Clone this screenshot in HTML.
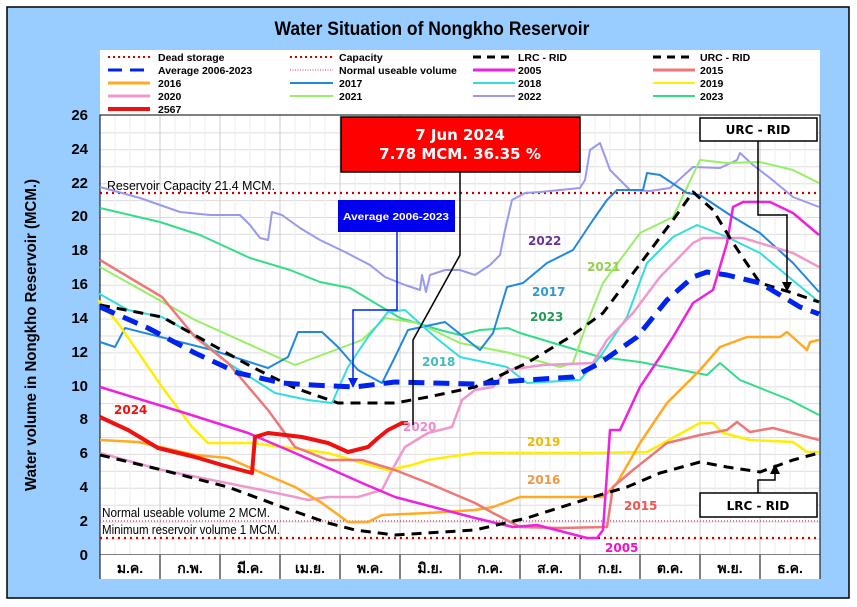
<!DOCTYPE html>
<html><head><meta charset="utf-8"><style>
html,body{margin:0;padding:0;background:#fff;}
svg{display:block;font-family:"Liberation Sans",sans-serif;}
</style></head><body>
<svg width="857" height="607" viewBox="0 0 857 607" xmlns="http://www.w3.org/2000/svg">
<rect x="0" y="0" width="857" height="607" fill="#fff"/>
<rect x="7" y="7" width="842" height="591" fill="#99ccff" stroke="#000" stroke-width="1.5"/>
<text x="432" y="35" text-anchor="middle" font-size="19" font-weight="bold" transform="translate(432,0) scale(0.92,1) translate(-432,0)">Water Situation of Nongkho Reservoir</text>
<rect x="100" y="50" width="720" height="65" fill="#fff"/>
<g font-size="10.5" font-weight="bold">
<line x1="108" y1="57" x2="150" y2="57" stroke="#cc0000" stroke-width="2" stroke-dasharray="2 3"/><text x="158" y="61">Dead storage</text>
<line x1="290" y1="57" x2="333" y2="57" stroke="#cc0000" stroke-width="2" stroke-dasharray="2 3"/><text x="339" y="61">Capacity</text>
<line x1="473" y1="57" x2="515" y2="57" stroke="#000" stroke-width="3" stroke-dasharray="8 6"/><text x="518" y="61">LRC - RID</text>
<line x1="653" y1="57" x2="695" y2="57" stroke="#000" stroke-width="3" stroke-dasharray="8 6"/><text x="700" y="61">URC - RID</text>
<line x1="108" y1="70" x2="150" y2="70" stroke="#0022ee" stroke-width="3" stroke-dasharray="14 8"/><text x="158" y="74">Average 2006-2023</text>
<line x1="290" y1="70" x2="333" y2="70" stroke="#cc3366" stroke-width="1" stroke-dasharray="1 1.5"/><text x="339" y="74">Normal useable volume</text>
<line x1="473" y1="70" x2="515" y2="70" stroke="#ee22dd" stroke-width="3"/><text x="518" y="74">2005</text>
<line x1="653" y1="70" x2="695" y2="70" stroke="#ee7777" stroke-width="3"/><text x="700" y="74">2015</text>
<line x1="108" y1="83" x2="150" y2="83" stroke="#ffaa22" stroke-width="3"/><text x="158" y="87">2016</text>
<line x1="290" y1="83" x2="333" y2="83" stroke="#2288dd" stroke-width="2"/><text x="339" y="87">2017</text>
<line x1="473" y1="83" x2="515" y2="83" stroke="#33dddd" stroke-width="2"/><text x="518" y="87">2018</text>
<line x1="653" y1="83" x2="695" y2="83" stroke="#ffee00" stroke-width="2"/><text x="700" y="87">2019</text>
<line x1="108" y1="96" x2="150" y2="96" stroke="#ee99cc" stroke-width="3"/><text x="158" y="100">2020</text>
<line x1="290" y1="96" x2="333" y2="96" stroke="#99ee66" stroke-width="2"/><text x="339" y="100">2021</text>
<line x1="473" y1="96" x2="515" y2="96" stroke="#9999ee" stroke-width="2"/><text x="518" y="100">2022</text>
<line x1="653" y1="96" x2="695" y2="96" stroke="#33dd88" stroke-width="2"/><text x="700" y="100">2023</text>
<line x1="108" y1="109" x2="150" y2="109" stroke="#ee1111" stroke-width="4"/><text x="158" y="113">2567</text>
</g>
<rect x="100" y="115" width="720" height="440" fill="#fff"/>
<g stroke="#dddddd" stroke-width="1">
<path d="M100 132.9H820M100 149.8H820M100 166.8H820M100 183.7H820M100 200.6H820M100 217.5H820M100 234.4H820M100 251.4H820M100 268.3H820M100 285.2H820M100 302.1H820M100 319H820M100 336H820M100 352.9H820M100 369.8H820M100 386.7H820M100 403.6H820M100 420.6H820M100 437.5H820M100 454.4H820M100 471.3H820M100 488.2H820M100 505.2H820M100 522.1H820M100 539H820"/>
<path d="M115 115V555M130 115V555M145 115V555M175 115V555M190 115V555M205 115V555M235 115V555M250 115V555M265 115V555M295 115V555M310 115V555M325 115V555M355 115V555M370 115V555M385 115V555M415 115V555M430 115V555M445 115V555M475 115V555M490 115V555M505 115V555M535 115V555M550 115V555M565 115V555M595 115V555M610 115V555M625 115V555M655 115V555M670 115V555M685 115V555M715 115V555M730 115V555M745 115V555M775 115V555M790 115V555M805 115V555" stroke="#eeeeee"/>
<path d="M160 115V555M220 115V555M280 115V555M340 115V555M400 115V555M460 115V555M520 115V555M580 115V555M640 115V555M700 115V555M760 115V555" stroke="#cccccc"/>
</g>
<rect x="100" y="115" width="720" height="440" fill="none" stroke="#000" stroke-width="1"/>
<line x1="100" y1="193" x2="820" y2="193" stroke="#cc0000" stroke-width="2.2" stroke-dasharray="2 4"/>
<line x1="100" y1="521" x2="820" y2="521" stroke="#cc3366" stroke-width="1.2" stroke-dasharray="1 2"/>
<line x1="100" y1="538" x2="820" y2="538" stroke="#cc0000" stroke-width="2.2" stroke-dasharray="2 4"/>
<g font-size="13">
<text x="107" y="190" textLength="168" lengthAdjust="spacingAndGlyphs">Reservoir Capacity 21.4 MCM.</text>
<text x="102" y="517" textLength="168" lengthAdjust="spacingAndGlyphs">Normal useable volume 2 MCM.</text>
<text x="102" y="534" textLength="178" lengthAdjust="spacingAndGlyphs">Minimum reservoir volume 1 MCM.</text>
</g>
<g fill="none" stroke-linejoin="round" stroke-linecap="butt">
<polyline stroke="#9999ee" stroke-width="2" points="100,187 140,198 180,212 210,215 240,215 250,225 260,238 268,240 272,212 282,215 300,228 320,240 345,252 370,265 385,277 405,285 420,290 422,275 426,292 430,275 445,270 460,270 475,275 490,265 500,255 505,230 512,200 525,193 540,192 560,190 580,188 585,180 590,150 600,143 610,170 620,180 630,190 650,191 670,188 693,167 720,168 737,160 740,153 753,165 770,178 793,197 819,207"/>
<polyline stroke="#33dd88" stroke-width="2" points="100,208 160,222 200,235 250,258 290,270 320,282 350,288 370,300 400,318 440,330 460,335 480,330 508,328 520,333 560,345 600,357 640,362 707,375 720,363 740,380 790,400 819,415"/>
<polyline stroke="#99ee66" stroke-width="2" points="100,267 195,320 295,365 362,340 385,318 418,323 460,343 510,353 560,367 573,363 587,323 603,283 640,233 673,217 700,160 727,163 760,162 793,170 819,183"/>
<polyline stroke="#2288dd" stroke-width="2" points="100,342 115,347 125,328 212,350 268,368 288,357 298,332 322,332 338,347 358,370 382,383 395,357 408,330 445,322 480,350 493,333 507,287 523,283 547,263 573,250 593,220 607,200 617,190 643,190 647,173 660,175 687,193 700,195 733,217 760,233 793,263 819,292"/>
<polyline stroke="#33dddd" stroke-width="2" points="98,293 128,310 162,317 198,337 228,363 275,393 308,400 332,403 348,367 368,337 388,312 405,310 435,337 460,357 507,367 527,383 580,380 600,357 627,317 647,263 673,237 697,225 727,237 760,253 819,302"/>
<polyline stroke="#ee99cc" stroke-width="2.5" points="100,453 162,470 262,490 295,497 308,500 328,497 358,497 382,490 392,470 405,447 428,433 452,427 462,400 475,390 493,387 507,370 543,365 593,363 607,340 633,313 660,277 693,243 703,238 743,238 793,253 819,267"/>
<polyline stroke="#ffee00" stroke-width="2.5" points="98,300 118,323 162,387 192,427 208,443 252,443 282,447 328,453 362,463 388,470 412,465 428,460 475,453 493,453 593,453 647,452 700,423 713,423 723,433 750,440 793,442 807,452 819,452"/>
<polyline stroke="#ffaa22" stroke-width="2.5" points="100,440 138,442 195,455 228,458 262,473 295,487 322,503 348,522 368,522 382,515 428,513 475,510 493,507 520,497 560,497 603,497 617,483 640,443 667,403 700,370 720,347 747,337 780,337 787,332 807,350 810,342 819,340"/>
<polyline stroke="#ee7777" stroke-width="2.5" points="100,260 162,297 195,337 228,363 268,410 295,447 328,460 362,460 395,470 428,483 475,503 493,513 520,527 560,528 607,527 613,487 633,470 667,443 700,435 727,430 737,422 750,432 773,428 819,440"/>
<polyline stroke="#ee22dd" stroke-width="2.5" points="100,387 185,413 248,433 295,453 362,483 395,497 475,518 513,527 537,525 587,538 597,538 603,530 610,430 620,430 640,387 660,357 673,337 693,303 713,290 727,243 733,207 743,202 770,202 793,213 819,235"/>
<polyline stroke="#000" stroke-width="3" stroke-dasharray="10 7" points="100,305 162,317 252,367 295,388 338,403 395,403 428,397 475,387 527,363 570,337 603,313 643,260 673,220 693,192 713,210 733,243 760,283 793,293 819,302"/>
<polyline stroke="#000" stroke-width="3" stroke-dasharray="10 7" points="100,455 162,470 228,487 282,507 328,523 355,530 395,535 475,530 527,518 593,497 627,487 660,473 700,462 727,467 760,472 793,460 819,453"/>
<polyline stroke="#0022ee" stroke-width="5" stroke-dasharray="16 9" points="100,307 148,328 195,353 238,373 282,383 312,385 355,387 395,382 475,384 527,380 573,377 600,363 637,337 667,300 693,277 707,272 727,275 760,283 800,307 819,314"/>
<polyline stroke="#ee1111" stroke-width="4" points="100,417 128,430 158,448 195,457 222,465 252,473 255,437 268,433 302,437 328,443 348,452 368,447 378,438 388,430 402,423 408,423"/>
</g>
<g font-size="12" font-weight="bold" font-family="DejaVu Sans, sans-serif">
<text x="528" y="245" fill="#663399">2022</text>
<text x="587" y="271" fill="#99cc55">2021</text>
<text x="532" y="296" fill="#3399cc">2017</text>
<text x="530" y="321" fill="#229955">2023</text>
<text x="422" y="366" fill="#44bbbb">2018</text>
<text x="403" y="431" fill="#ee88cc">2020</text>
<text x="527" y="446" fill="#eebb00">2019</text>
<text x="527" y="484" fill="#ee9944">2016</text>
<text x="624" y="510" fill="#ee5555">2015</text>
<text x="605" y="552" fill="#ee11cc">2005</text>
<text x="114" y="414" fill="#ee1111">2024</text>
</g>
<g fill="none" stroke="#000" stroke-width="1.5">
<polyline points="460,172 460,255 413,340 413,425"/>
<polyline points="397,232 397,310 353,310 353,383" stroke="#0022ee"/>
<polyline points="758,141 758,215 787,215 787,285"/>
<polyline points="758,493 758,480 775,480 775,472"/>
</g>
<polygon points="348,378 358,378 353,388" fill="#0022ee"/>
<polygon points="782,282 792,282 787,292" fill="#000"/>
<polygon points="770,474 780,474 775,464" fill="#000"/>
<rect x="341" y="117" width="239" height="55" fill="#ff0000" stroke="#000" stroke-width="1.5"/>
<text x="460" y="140" text-anchor="middle" fill="#fff" font-size="15" font-weight="bold" font-family="DejaVu Sans, sans-serif">7 Jun 2024</text>
<text x="460" y="159" text-anchor="middle" fill="#fff" font-size="15" font-weight="bold" font-family="DejaVu Sans, sans-serif">7.78 MCM. 36.35 %</text>
<rect x="338" y="200" width="117" height="32" fill="#0000ee"/>
<text x="396" y="220" text-anchor="middle" fill="#fff" font-size="10.5" font-weight="bold" textLength="106" lengthAdjust="spacingAndGlyphs">Average 2006-2023</text>
<rect x="700" y="118" width="117" height="23" fill="#fff" stroke="#000" stroke-width="1.5"/>
<text x="758" y="134" text-anchor="middle" font-size="12" font-weight="bold" font-family="DejaVu Sans, sans-serif">URC - RID</text>
<rect x="700" y="493" width="117" height="24" fill="#fff" stroke="#000" stroke-width="1.5"/>
<text x="758" y="510" text-anchor="middle" font-size="12" font-weight="bold" font-family="DejaVu Sans, sans-serif">LRC - RID</text>
<g font-size="15" font-weight="bold" text-anchor="end">
<text x="88" y="560">0</text><text x="88" y="526">2</text><text x="88" y="492">4</text><text x="88" y="458">6</text><text x="88" y="424">8</text><text x="88" y="391">10</text><text x="88" y="357">12</text><text x="88" y="323">14</text><text x="88" y="289">16</text><text x="88" y="255">18</text><text x="88" y="221">20</text><text x="88" y="188">22</text><text x="88" y="154">24</text><text x="88" y="120">26</text>
</g>
<text transform="translate(36,335) rotate(-90)" text-anchor="middle" font-size="16" font-weight="bold" textLength="312" lengthAdjust="spacingAndGlyphs">Water volume in Nongkho Reservoir (MCM.)</text>
<rect x="100" y="555" width="720" height="24" fill="#fff"/>
<g stroke="#000" stroke-width="1">
<path d="M100 555V579M160 555V579M220 555V579M280 555V579M340 555V579M400 555V579M460 555V579M520 555V579M580 555V579M640 555V579M700 555V579M760 555V579M820 555V579"/>
</g>
<g font-size="14" font-weight="bold" text-anchor="middle" font-family="Liberation Sans, Noto Sans CJK SC, DejaVu Sans, sans-serif">
<text x="130" y="573">ม.ค.</text><text x="190" y="573">ก.พ.</text><text x="250" y="573">มี.ค.</text><text x="310" y="573">เม.ย.</text><text x="370" y="573">พ.ค.</text><text x="430" y="573">มิ.ย.</text><text x="490" y="573">ก.ค.</text><text x="550" y="573">ส.ค.</text><text x="610" y="573">ก.ย.</text><text x="670" y="573">ต.ค.</text><text x="730" y="573">พ.ย.</text><text x="790" y="573">ธ.ค.</text>
</g>
</svg>
</body></html>
